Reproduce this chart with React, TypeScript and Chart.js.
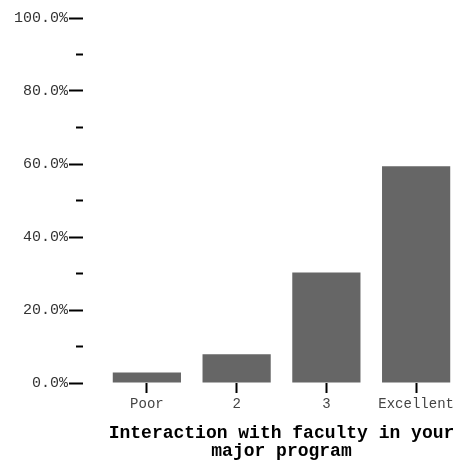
import React, { useEffect, useRef } from "react";
import { Chart, registerables } from "chart.js";

Chart.register(...registerables);

const categories = ["Poor", "2", "3", "Excellent"];
const percentValues = [2.9, 7.9, 30.3, 59.4];
const axisTitleLines = ["Interaction with faculty in your", "major program"];
const yMin = 0;
const yMax = 100;
const yStep = 10;
const yLabelEvery = 20;

const MONO = '"Liberation Mono", "Courier New", monospace';

export default function App() {
  const canvasRef = useRef<HTMLCanvasElement | null>(null);

  useEffect(() => {
    const canvas = canvasRef.current;
    if (!canvas) return;
    const chart = new Chart(canvas, {
      type: "bar",
      data: {
        labels: categories,
        datasets: [
          {
            data: percentValues,
            backgroundColor: "#666666",
            borderWidth: 0,
            barPercentage: 0.76,
            categoryPercentage: 1,
          },
        ],
      },
      options: {
        responsive: false,
        animation: false,
        layout: { padding: { top: 18, left: 0, right: 0, bottom: 0 } },
        plugins: {
          legend: { display: false },
          tooltip: { enabled: false },
        },
        scales: {
          x: {
            type: "category",
            offset: true,
            border: { display: false },
            grid: {
              display: true,
              drawOnChartArea: false,
              offset: false,
              tickLength: 10,
              tickWidth: 2,
              tickColor: "#000",
            },
            ticks: {
              color: "#444",
              padding: 3,
              font: { family: MONO, size: 14 },
              maxRotation: 0,
              autoSkip: false,
            },
            title: {
              display: true,
              text: axisTitleLines,
              color: "#000",
              font: { family: MONO, size: 18, weight: "bold", lineHeight: 1.0 },
              padding: { top: 0, bottom: 3 },
            },
            afterFit: (scale: any) => {
              scale.height = 80;
            },
          },
          y: {
            min: yMin,
            max: yMax,
            border: { display: false },
            grid: {
              display: true,
              drawOnChartArea: false,
              tickLength: 33,
              tickWidth: 2,
              tickColor: "#000",
              tickBorderDash: (ctx: any) =>
                ctx.tick && ctx.tick.value % yLabelEvery === 0 ? [14, 40] : [7, 26],
              tickBorderDashOffset: (ctx: any) =>
                ctx.tick && ctx.tick.value % yLabelEvery === 0 ? 0 : 26,
            },
            ticks: {
              stepSize: yStep,
              autoSkip: false,
              color: "#333",
              padding: 1,
              font: { family: MONO, size: 15 },
              callback: (value: any) =>
                Number(value) % yLabelEvery === 0 ? Number(value).toFixed(1) + "%" : "",
            },
            afterFit: (scale: any) => {
              scale.width = 102;
            },
          },
        },
      } as any,
    });
    return () => chart.destroy();
  }, []);

  return (
    <div style={{ position: "fixed", left: 0, top: 0, width: 461, height: 463, background: "#fff" }}>
      <canvas ref={canvasRef} width={461} height={463} style={{ width: 461, height: 463, display: "block" }} />
    </div>
  );
}
